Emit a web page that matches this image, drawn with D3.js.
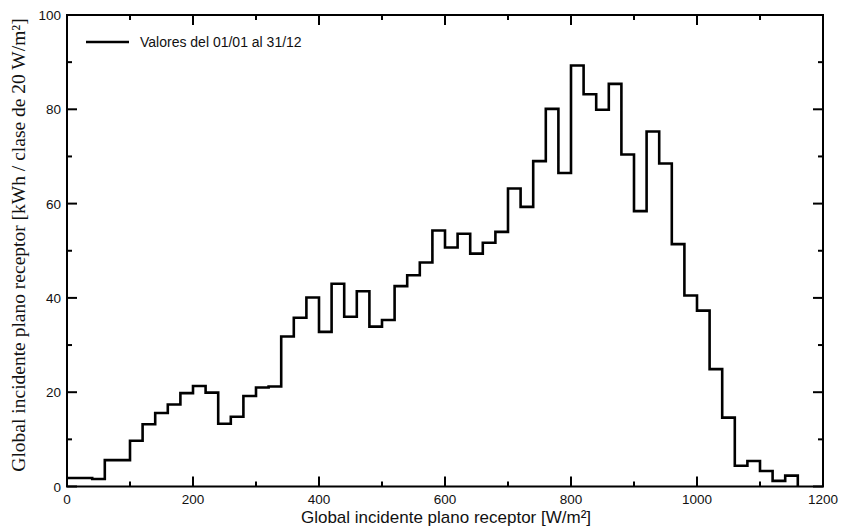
<!DOCTYPE html>
<head>
<meta charset="utf-8">
<script src="https://d3js.org/d3.v7.min.js"></script>
<style>
body { margin: 0; background: #fff; }
text { font-family: "Liberation Sans", Arial, sans-serif; fill: #111; }
</style>
</head>
<body>
<div id="container"></div>
<script>
//---------------------------DATA---------------------------//
const binWidth = 20;
const binStarts = d3.range(0, 1160, binWidth);
const energy = [1.8, 1.8, 1.6, 5.6, 5.6, 9.7, 13.2, 15.6, 17.4, 19.8,
  21.3, 19.9, 13.3, 14.8, 19.2, 21.0, 21.2, 31.8, 35.8, 40.1,
  32.8, 43.0, 36.0, 41.4, 33.9, 35.3, 42.5, 44.8, 47.5, 54.3,
  50.7, 53.6, 49.4, 51.7, 54.0, 63.2, 59.3, 69.0, 80.1, 66.5,
  89.3, 83.2, 79.9, 85.4, 70.4, 58.4, 75.3, 68.5, 51.4, 40.5,
  37.3, 24.9, 14.6, 4.4, 5.4, 3.3, 1.2, 2.3];
const xTicks = [0, 200, 400, 600, 800, 1000, 1200];
const yTicks = [0, 20, 40, 60, 80, 100];
const legendLabel = "Valores del 01/01 al 31/12";

//---------------------------SVG----------------------------//
const width = 842, height = 528;
const plot = {left: 67, right: 823, top: 15, bottom: 486.5};

const svg = d3.select("#container").append("svg")
    .attr("width", width)
    .attr("height", height);

const x = d3.scaleLinear().domain([0, 1200]).range([plot.left, plot.right]);
const y = d3.scaleLinear().domain([0, 100]).range([plot.bottom, plot.top]);

//---------------------------TICKS--------------------------//
// inward ticks on all four sides, long at labelled values
const ticks = svg.append("g").attr("class", "ticks");
const xMinor = d3.range(0, 1201, 100);
const yMinor = d3.range(0, 101, 10);

ticks.selectAll("line.xb").data(xMinor).join("line").attr("class", "xb")
    .attr("x1", d => x(d)).attr("x2", d => x(d))
    .attr("y1", plot.bottom).attr("y2", d => plot.bottom - (d % 200 === 0 ? 10 : 5));
ticks.selectAll("line.xt").data(xMinor).join("line").attr("class", "xt")
    .attr("x1", d => x(d)).attr("x2", d => x(d))
    .attr("y1", plot.top).attr("y2", d => plot.top + (d % 200 === 0 ? 10 : 5));
ticks.selectAll("line.yl").data(yMinor).join("line").attr("class", "yl")
    .attr("y1", d => y(d)).attr("y2", d => y(d))
    .attr("x1", plot.left).attr("x2", d => plot.left + (d % 20 === 0 ? 10 : 5));
ticks.selectAll("line.yr").data(yMinor).join("line").attr("class", "yr")
    .attr("y1", d => y(d)).attr("y2", d => y(d))
    .attr("x1", plot.right).attr("x2", d => plot.right - (d % 20 === 0 ? 10 : 5));
ticks.selectAll("line")
    .attr("stroke", "#000")
    .attr("stroke-width", 2);

svg.append("g").selectAll("text").data(xTicks).join("text")
    .attr("x", d => x(d)).attr("y", 504)
    .attr("text-anchor", "middle")
    .style("font-size", "13.5px")
    .text(d => d);

svg.append("g").selectAll("text").data(yTicks).join("text")
    .attr("x", 61).attr("y", d => y(d) + 5)
    .attr("text-anchor", "end")
    .style("font-size", "13.5px")
    .text(d => d);

//---------------------------LINE---------------------------//
const pts = binStarts.map((s, i) => ({x: s, y: energy[i]}));
pts.push({x: binStarts[binStarts.length - 1] + binWidth, y: 0});

const line = d3.line()
    .x(d => x(d.x))
    .y(d => y(d.y))
    .curve(d3.curveStepAfter);

svg.append("path")
    .attr("d", line(pts))
    .attr("fill", "none")
    .attr("stroke", "#000")
    .attr("stroke-width", 2.6)
    .attr("stroke-linejoin", "miter");

// frame
svg.append("rect")
    .attr("x", plot.left).attr("y", plot.top)
    .attr("width", plot.right - plot.left)
    .attr("height", plot.bottom - plot.top)
    .attr("fill", "none")
    .attr("stroke", "#000")
    .attr("stroke-width", 2);

//--------------------------LEGEND--------------------------//
svg.append("line")
    .attr("x1", 86).attr("x2", 129)
    .attr("y1", 42).attr("y2", 42)
    .attr("stroke", "#000").attr("stroke-width", 2.6);
svg.append("text")
    .attr("x", 140).attr("y", 47)
    .style("font-size", "14px")
    .text(legendLabel);

//--------------------------TITLES--------------------------//
svg.append("text")
    .attr("x", 446).attr("y", 523)
    .attr("text-anchor", "middle")
    .style("font-size", "17px")
    .text("Global incidente plano receptor [W/m²]");

svg.append("text")
    .attr("transform", "translate(25,245) rotate(-90)")
    .attr("text-anchor", "middle")
    .style("font-family", "'Liberation Serif', 'Times New Roman', serif")
    .style("font-size", "19.5px")
    .text("Global incidente plano receptor [kWh / clase de 20 W/m²]");
</script>
</body>
